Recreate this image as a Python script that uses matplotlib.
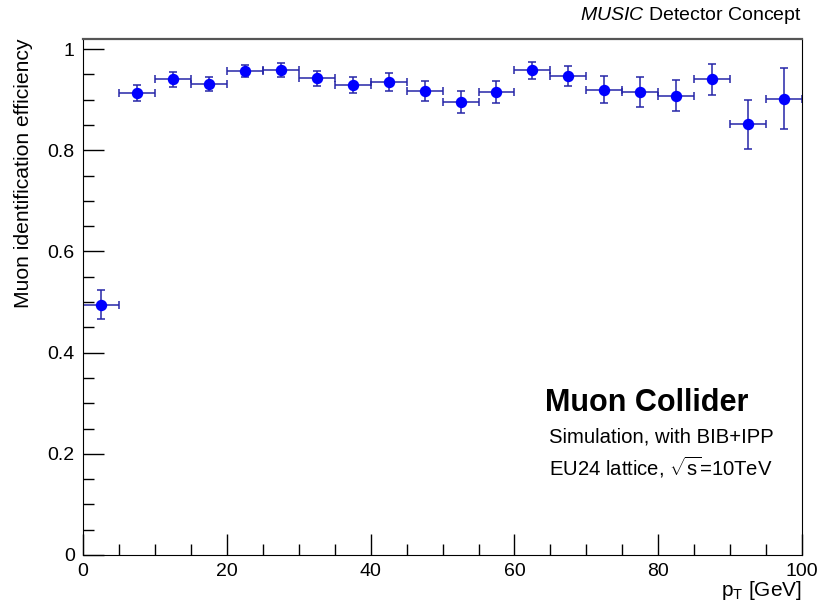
import numpy as np
import matplotlib
matplotlib.use('Agg')
import matplotlib.pyplot as plt
from matplotlib.ticker import MultipleLocator

plt.rcParams['font.family'] = ['Liberation Sans', 'DejaVu Sans']
plt.rcParams['mathtext.fontset'] = 'custom'
plt.rcParams['mathtext.rm'] = 'Liberation Sans'
plt.rcParams['mathtext.it'] = 'Liberation Sans:italic'

# efficiency per 5 GeV pT bin
pt_centers = [2.5, 7.5, 12.5, 17.5, 22.5, 27.5, 32.5, 37.5, 42.5, 47.5,
              52.5, 57.5, 62.5, 67.5, 72.5, 77.5, 82.5, 87.5, 92.5, 97.5]
efficiency = [0.495, 0.913, 0.940, 0.931, 0.957, 0.958, 0.942, 0.929, 0.935, 0.917,
              0.895, 0.915, 0.958, 0.947, 0.920, 0.915, 0.908, 0.940, 0.851, 0.902]
eff_err = [0.028, 0.016, 0.014, 0.013, 0.0125, 0.014, 0.0145, 0.0165, 0.017, 0.020,
           0.022, 0.021, 0.017, 0.019, 0.026, 0.030, 0.030, 0.030, 0.048, 0.060]
bin_half = [2.5] * len(pt_centers)

fig = plt.figure(figsize=(8.23, 6.11), dpi=100)
ax = fig.add_axes([0.101, 0.0917, 0.8735, 0.8445])

ax.errorbar(pt_centers, efficiency, xerr=bin_half, yerr=eff_err, fmt='o',
            color='blue', markersize=7.2, ecolor='#2626a8', elinewidth=1.1,
            capsize=2.8, capthick=1.1)

ax.set_xlim(0, 100)
ax.set_ylim(0, 1.02)
ax.xaxis.set_major_locator(MultipleLocator(20))
ax.xaxis.set_minor_locator(MultipleLocator(5))
ax.yaxis.set_minor_locator(MultipleLocator(0.05))
ax.set_yticks([0, 0.2, 0.4, 0.6, 0.8, 1.0])
ax.set_yticklabels(['0', '0.2', '0.4', '0.6', '0.8', '1'])

ax.tick_params(which='major', direction='in', length=15, width=1, labelsize=14,
               top=False, right=False, pad=6)
ax.tick_params(which='minor', direction='in', length=8, width=1, top=False, right=False)
ax.spines['top'].set_color('#555555')
ax.spines['top'].set_linewidth(1.6)

ax.set_ylabel('Muon identification efficiency', fontsize=15.2)
ax.yaxis.set_label_coords(-0.07, 1.0)
ax.yaxis.label.set_ha('right')
ax.set_xlabel(r'p$_{\mathrm{T}}$ [GeV]', fontsize=15)
ax.xaxis.set_label_coords(1.0, -0.046)
ax.xaxis.label.set_ha('right')
ax.xaxis.label.set_va('top')

fig.text(0.9745, 0.958, r'$\mathit{MUSIC}$ Detector Concept', ha='right', va='bottom', fontsize=14)

ax.text(0.643, 0.295, 'Muon Collider', transform=ax.transAxes, fontsize=22,
        fontweight='bold', ha='left', va='center')
ax.text(0.648, 0.228, 'Simulation, with BIB+IPP', transform=ax.transAxes, fontsize=14.6,
        ha='left', va='center')
ax.text(0.648, 0.170, r'EU24 lattice, $\sqrt{\mathrm{s}}$=10TeV', transform=ax.transAxes,
        fontsize=14.6, ha='left', va='center')

fig.savefig('out.png', dpi=100)
